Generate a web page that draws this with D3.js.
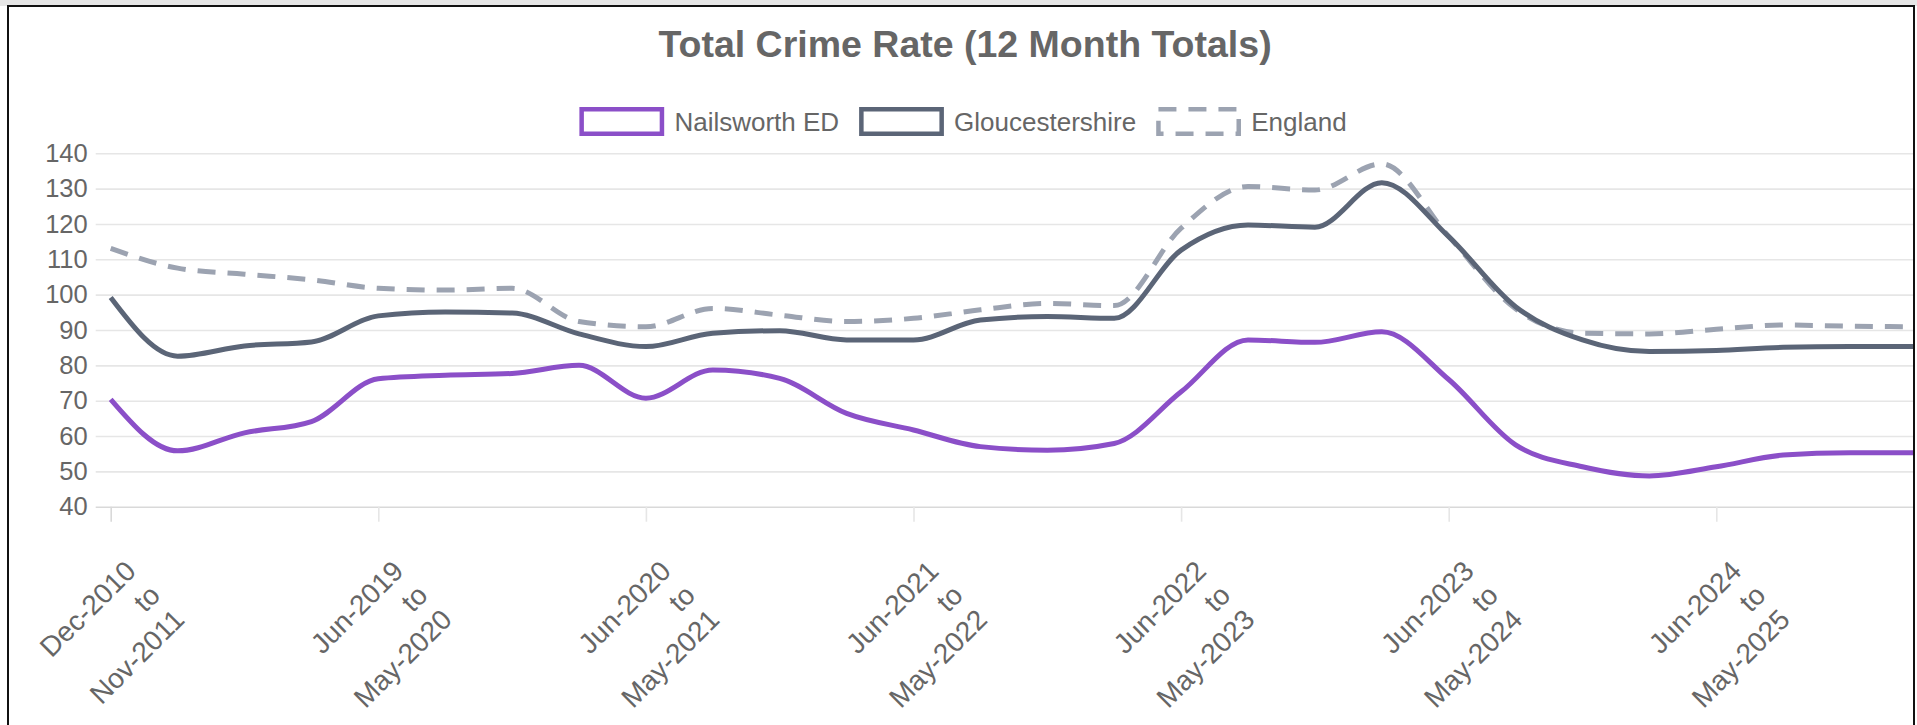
<!DOCTYPE html>
<html>
<head>
<meta charset="utf-8">
<script src="https://cdn.jsdelivr.net/npm/d3@7"></script>
<style>
  body { margin: 0; background: #fff; }
  svg { display: block; font-family: "Liberation Sans", Arial, sans-serif; }
</style>
</head>
<body>
<div id="chart"></div>
<script>
// categories (only every 4th label is shown on the axis)
const periods = [
    ["Dec-2010", "to", "Nov-2011"], ["Sep-2018", "to", "Aug-2019"], ["Dec-2018", "to", "Nov-2019"], ["Mar-2019", "to", "Feb-2020"],
    ["Jun-2019", "to", "May-2020"], ["Sep-2019", "to", "Aug-2020"], ["Dec-2019", "to", "Nov-2020"], ["Mar-2020", "to", "Feb-2021"],
    ["Jun-2020", "to", "May-2021"], ["Sep-2020", "to", "Aug-2021"], ["Dec-2020", "to", "Nov-2021"], ["Mar-2021", "to", "Feb-2022"],
    ["Jun-2021", "to", "May-2022"], ["Sep-2021", "to", "Aug-2022"], ["Dec-2021", "to", "Nov-2022"], ["Mar-2022", "to", "Feb-2023"],
    ["Jun-2022", "to", "May-2023"], ["Sep-2022", "to", "Aug-2023"], ["Dec-2022", "to", "Nov-2023"], ["Mar-2023", "to", "Feb-2024"],
    ["Jun-2023", "to", "May-2024"], ["Sep-2023", "to", "Aug-2024"], ["Dec-2023", "to", "Nov-2024"], ["Mar-2024", "to", "Feb-2025"],
    ["Jun-2024", "to", "May-2025"], ["Sep-2024", "to", "Aug-2025"], ["Dec-2024", "to", "Nov-2025"], ["Mar-2025", "to", "Feb-2026"]
];

const nailsworth = [70.4, 55.8, 60.9, 64.1, 76.2, 77.2, 77.7, 80.0, 70.7, 78.7, 76.3, 66.4, 61.7, 57.0,
    56.0, 57.9, 72.5, 87.2, 86.5, 89.5, 76.0, 57.5, 51.3, 48.7, 51.3, 54.6, 55.3, 55.3];
const gloucestershire = [99.2, 82.6, 85.5, 86.6, 94.0, 95.1, 94.8, 88.9, 85.3, 89.1, 89.8, 87.2, 87.2, 92.8,
    93.8, 93.3, 112.6, 119.7, 119.1, 131.7, 116.4, 96.6, 87.2, 83.9, 84.2, 85.1, 85.3, 85.3];
const england = [113.1, 107.5, 105.8, 104.2, 101.8, 101.3, 101.8, 92.4, 90.9, 96.1, 94.2, 92.4, 93.3, 95.7,
    97.5, 96.9, 118.8, 130.6, 129.6, 137.0, 116.5, 96.0, 89.1, 88.9, 90.2, 91.4, 91.1, 90.9];

const yTicks = [40, 50, 60, 70, 80, 90, 100, 110, 120, 130, 140];

const series = [
    { name: "Nailsworth ED", values: nailsworth, color: "#8b4fc8", dash: null },
    { name: "Gloucestershire", values: gloucestershire, color: "#5b6577", dash: null },
    { name: "England", values: england, color: "#9ca3b1", dash: "18,12" }
];

const width = 1917, height = 725;

const svg = d3.select("#chart")
    .append("svg")
    .attr("width", width)
    .attr("height", height);

// grey strip + black frame like the screenshot
svg.append("rect").attr("x", 0).attr("y", 0).attr("width", width).attr("height", 6).attr("fill", "#e6e6e6");
svg.append("rect")
    .attr("x", 8).attr("y", 6)
    .attr("width", 1906).attr("height", 740)
    .attr("fill", "#fff")
    .attr("stroke", "#111")
    .attr("stroke-width", 2);

svg.append("clipPath").attr("id", "frameClip")
    .append("rect").attr("x", 9).attr("y", 7).attr("width", 1904).attr("height", 730);

const root = svg.append("g").attr("clip-path", "url(#frameClip)");

// title
root.append("text")
    .attr("x", 965)
    .attr("y", 57)
    .attr("text-anchor", "middle")
    .attr("font-size", "37.5px")
    .attr("font-weight", "bold")
    .attr("fill", "#666")
    .text("Total Crime Rate (12 Month Totals)");

// scales
var x = d3.scaleLinear()
    .domain([0, periods.length - 1])
    .range([110.7, 1917]);

var y = d3.scaleLinear()
    .domain([40, 140])
    .range([506.7, 153.3]);

// horizontal grid + y ticks
const yAxis = root.append("g")
    .attr("transform", "translate(110.7,0)")
    .call(d3.axisLeft(y).tickValues(yTicks).tickSize(-(1917 - 110.7)).tickPadding(23).tickSizeOuter(0));
yAxis.select(".domain").remove();
yAxis.selectAll(".tick line")
    .attr("x1", -15)
    .attr("stroke", function(d) { return d == 40 ? "#d9d9d9" : "#e6e6e6"; })
    .attr("stroke-width", 1.6);
yAxis.selectAll(".tick text")
    .attr("font-size", "25.5px")
    .attr("font-family", "Liberation Sans, Arial, sans-serif")
    .attr("fill", "#666");

// vertical grid at every 4th category
const shown = d3.range(0, periods.length, 4);
const xAxis = root.append("g")
    .attr("transform", "translate(0,506.7)")
    .call(d3.axisBottom(x).tickValues(shown).tickSize(-(506.7 - 153.3)).tickFormat(""));
xAxis.select(".domain").remove();
xAxis.selectAll(".tick line")
    .attr("y2", 15)
    .attr("stroke", function(d) { return d == 0 ? "#d9d9d9" : "#e6e6e6"; })
    .attr("stroke-width", 1.6);

// rotated three-line labels
const labels = root.append("g")
    .selectAll("g")
    .data(shown)
    .enter()
    .append("g")
    .attr("transform", function(d) {
        return "translate(" + (x(d) + 20) + ",566) rotate(-45)";
    });
labels.selectAll("text")
    .data(function(d) { return periods[d]; })
    .enter()
    .append("text")
    .attr("x", 0)
    .attr("y", function(d, i) { return i * 34.3; })
    .attr("text-anchor", "end")
    .attr("dominant-baseline", "central")
    .attr("font-size", "28px")
    .attr("fill", "#666")
    .text(function(d) { return d; });

// lines
const line = d3.line()
    .x(function(d, i) { return x(i); })
    .y(function(d) { return y(d); })
    .curve(d3.curveMonotoneX);

root.append("g")
    .selectAll("path")
    .data(series.slice().reverse())
    .enter()
    .append("path")
    .attr("d", function(d) { return line(d.values); })
    .attr("fill", "none")
    .attr("stroke", function(d) { return d.color; })
    .attr("stroke-width", 5)
    .attr("stroke-dasharray", function(d) { return d.dash; })
    .attr("stroke-linejoin", "round");

// legend
const legend = root.append("g");
const items = legend.selectAll("g")
    .data(series)
    .enter()
    .append("g");
items.append("rect")
    .attr("x", 2.25).attr("y", 109.25)
    .attr("width", 80.3).attr("height", 24.5)
    .attr("fill", "#fff")
    .attr("stroke", function(d) { return d.color; })
    .attr("stroke-width", 4.5)
    .attr("stroke-dasharray", function(d) { return d.dash; });
items.append("text")
    .attr("x", 95)
    .attr("y", 121.5)
    .attr("dominant-baseline", "central")
    .attr("font-size", "26px")
    .attr("fill", "#666")
    .text(function(d) { return d.name; });

let widths = [];
items.each(function() {
    widths.push(95 + d3.select(this).select("text").node().getComputedTextLength());
});
const total = d3.sum(widths) + 20 * (widths.length - 1);
let cursor = 963 - total / 2;
items.attr("transform", function(d, i) {
    const t = "translate(" + cursor + ",0)";
    cursor += widths[i] + 20;
    return t;
});
</script>
</body>
</html>
